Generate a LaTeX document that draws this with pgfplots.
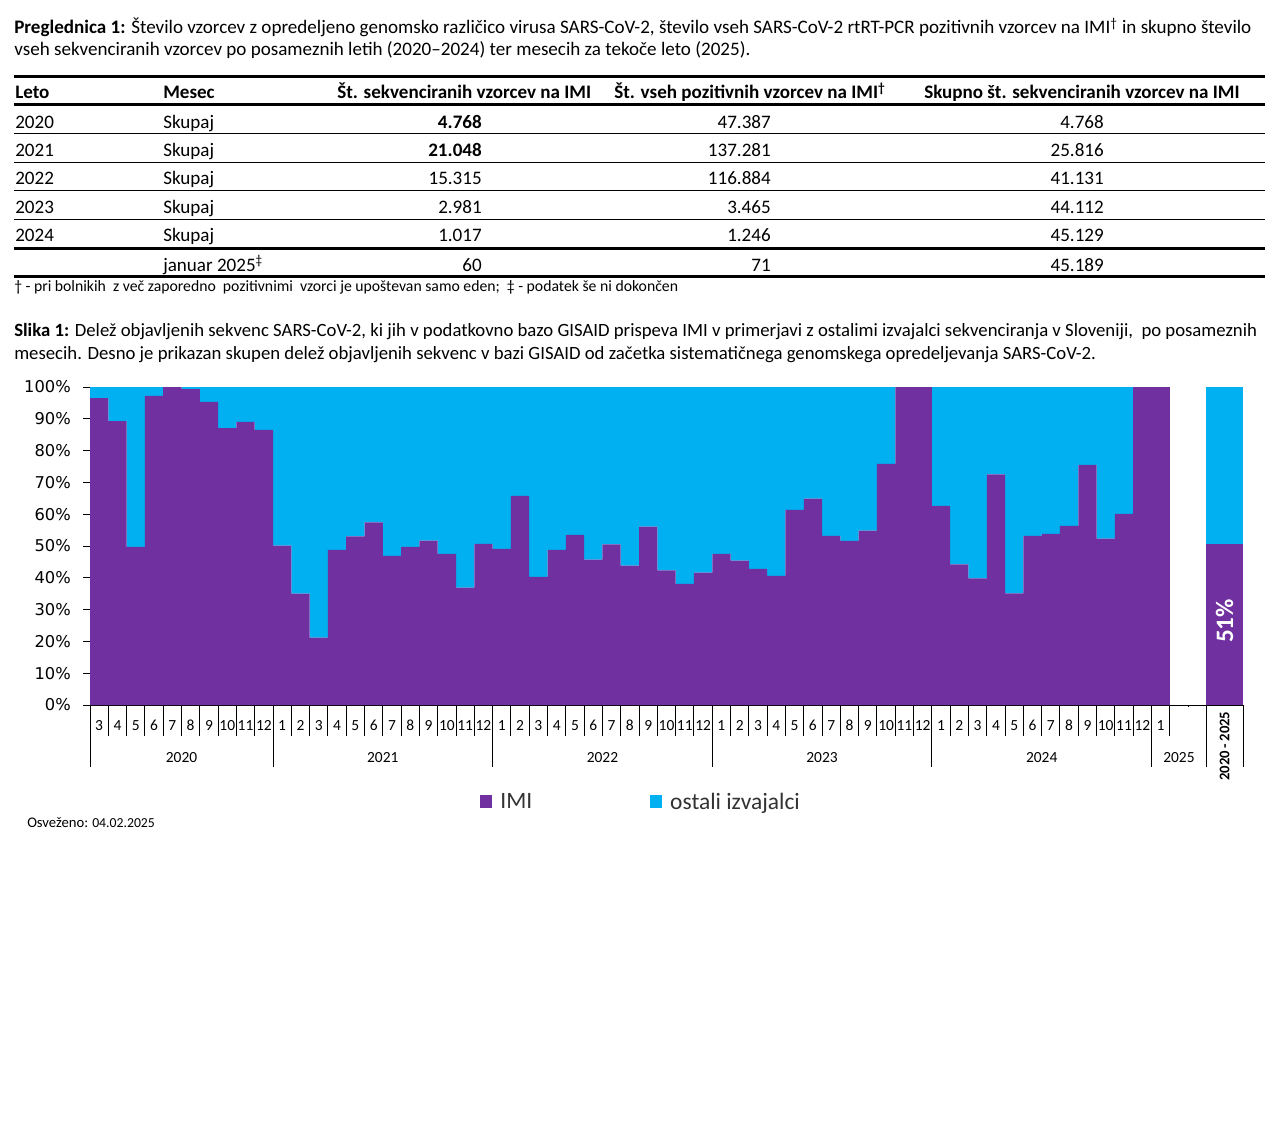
\documentclass[border=0pt]{standalone}
\usepackage{pgfplots}
\pgfplotsset{compat=1.18}
\usepackage{pgfplotstable}
\usepackage{fontspec}
\setmainfont{Carlito}
\newfontfamily\dejavu{DejaVu Sans}
\definecolor{imi}{HTML}{7030A0}
\definecolor{ost}{HTML}{00B0F0}
\newcommand{\fs}[1]{\fontsize{#1}{#1}\selectfont}

\pgfplotstableread{
x imi ost
0.5 96.5 3.5
1.5 89.3 10.7
2.5 49.7 50.3
3.5 97.2 2.8
4.5 100 0
5.5 99.3 0.7
6.5 95.3 4.7
7.5 87.1 12.9
8.5 89.0 11.0
9.5 86.5 13.5
10.5 50.1 49.9
11.5 35.0 65.0
12.5 21.2 78.8
13.5 48.8 51.2
14.5 53.0 47.0
15.5 57.4 42.6
16.5 46.9 53.1
17.5 49.7 50.3
18.5 51.7 48.3
19.5 47.5 52.5
20.5 36.9 63.1
21.5 50.7 49.3
22.5 49.1 50.9
23.5 65.8 34.2
24.5 40.3 59.7
25.5 48.8 51.2
26.5 53.5 46.5
27.5 45.7 54.3
28.5 50.5 49.5
29.5 43.8 56.2
30.5 56.1 43.9
31.5 42.3 57.7
32.5 38.1 61.9
33.5 41.6 58.4
34.5 47.5 52.5
35.5 45.4 54.6
36.5 42.8 57.2
37.5 40.6 59.4
38.5 61.4 38.6
39.5 64.9 35.1
40.5 53.2 46.8
41.5 51.6 48.4
42.5 54.8 45.2
43.5 75.8 24.2
44.5 100 0
45.5 100 0
46.5 62.6 37.4
47.5 44.2 55.8
48.5 39.8 60.2
49.5 72.5 27.5
50.5 35.1 64.9
51.5 53.2 46.8
52.5 53.8 46.2
53.5 56.3 43.7
54.5 75.5 24.5
55.5 52.3 47.7
56.5 60.1 39.9
57.5 100 0
58.5 100 0
}\monthly

\pgfplotstableread{
x imi ost
62 50.5 49.5
}\total

\begin{document}
\begin{tikzpicture}
\path[use as bounding box] (0,0) rectangle (960pt,-850.5pt);
\begin{scope}[x=0.75pt,y=-0.75pt]
% title
\node[anchor=base west,inner sep=0pt,font=\fs{14.3}] at (14,34) {\textbf{Preglednica 1:} Število vzorcev z opredeljeno genomsko različico virusa SARS-CoV-2, število vseh SARS-CoV-2 rtRT-PCR pozitivnih vzorcev na IMI\textsuperscript{†} in skupno število};
\node[anchor=base west,inner sep=0pt,font=\fs{14.3}] at (14,55.5) {vseh sekvenciranih vzorcev po posameznih letih (2020–2024) ter mesecih za tekoče leto (2025).};
% rules
\draw[line width=2.25pt] (14,76.5) -- (1265,76.5);
\draw[line width=2.25pt] (14,105) -- (1265,105);
\foreach \yy in {133.5,162.5,191,220} \draw[line width=0.75pt] (14,\yy) -- (1265,\yy);
\draw[line width=2.25pt] (14,248) -- (1265,248);
\draw[line width=2.25pt] (14,276) -- (1265,276);
% header
\begin{scope}[every node/.style={anchor=base west,inner sep=0pt,font=\fs{14.3}\bfseries}]
\node at (15,99) {Leto};
\node at (163,99) {Mesec};
\node at (337,99) {Št. sekvenciranih vzorcev na IMI};
\node at (614,99) {Št. vseh pozitivnih vzorcev na IMI\textsuperscript{†}};
\node at (924,99) {Skupno št. sekvenciranih vzorcev na IMI};
\end{scope}
\begin{scope}[every node/.style={inner sep=0pt,font=\fs{14.3}}]
\foreach \yy/\a/\b/\c/\d/\e in {128.5/2020/Skupaj/\textbf{4.768}/47.387/4.768,
  156.5/2021/Skupaj/\textbf{21.048}/137.281/25.816,
  185/2022/Skupaj/15.315/116.884/41.131,
  213.5/2023/Skupaj/2.981/3.465/44.112,
  242/2024/Skupaj/1.017/1.246/45.129,
  271//januar 2025\textsuperscript{‡}/60/71/45.189}{
  \node[anchor=base west] at (15,\yy) {\a};
  \node[anchor=base west] at (163,\yy) {\b};
  \node[anchor=base east] at (482,\yy) {\c};
  \node[anchor=base east] at (771,\yy) {\d};
  \node[anchor=base east] at (1104,\yy) {\e};
}
\end{scope}
\node[anchor=base west,inner sep=0pt,font=\fs{11.8}] at (14,291) {† - pri bolnikih\ \ z več zaporedno\ \ pozitivnimi\ \ vzorci je upoštevan samo eden;\ \ ‡ - podatek še ni dokončen};
% figure caption
\node[anchor=base west,inner sep=0pt,font=\fs{14.05}] at (14,336.5) {\textbf{Slika 1:} Delež objavljenih sekvenc SARS-CoV-2, ki jih v podatkovno bazo GISAID prispeva IMI v primerjavi z ostalimi izvajalci sekvenciranja v Sloveniji,\ \ po posameznih};
\node[anchor=base west,inner sep=0pt,font=\fs{14.05}] at (14,359.5) {mesecih. Desno je prikazan skupen delež objavljenih sekvenc v bazi GISAID od začetka sistematičnega genomskega opredeljevanja SARS-CoV-2.};
\node[anchor=base west,inner sep=0pt] at (27,827.5) {{\fs{11}Osveženo:} {\fs{10.3}04.02.2025}};
\end{scope}

\begin{axis}[
  at={(67.5pt,-528.75pt)}, anchor=south west,
  scale only axis, width=864.75pt, height=238.5pt,
  xmin=0, xmax=63, ymin=0, ymax=100,
  ybar stacked, bar width=1,
  clip=false,
  axis x line*=bottom, axis y line*=left,
  axis line style={black, line width=0.75pt},
  ytick={0,10,...,100},
  ytick align=outside, major tick length=5.25pt,
  ytick style={black, line width=0.75pt},
  /pgf/number format/assume math mode=true,
  yticklabel={\pgfmathprintnumber{\tick}\%},
  yticklabel style={font=\dejavu\fs{12.2}, anchor=east, inner sep=0pt, xshift=-9pt},
  xtick={0.5,1.5,...,58.5},
  xticklabels={3,4,5,6,7,8,9,10,11,12,1,2,3,4,5,6,7,8,9,10,11,12,1,2,3,4,5,6,7,8,9,10,11,12,1,2,3,4,5,6,7,8,9,10,11,12,1,2,3,4,5,6,7,8,9,10,11,12,1},
  xtick align=inside, xtick style={draw=none},
  xticklabel style={font=\fs{11.6}, anchor=base, inner sep=0pt, yshift=-18.75pt},
  legend style={at={(0.478,-0.305)}, anchor=center, draw=none, fill=none,
    legend columns=2, font=\fs{17.6}\color{black!80},
    /tikz/every odd column/.append style={column sep=4pt},
    /tikz/every even column/.append style={column sep=86pt}},
]
\addplot[fill=imi, draw=none, legend image code/.code={\fill[imi] (0pt,-4.5pt) rectangle (9.5pt,5pt);}] table[x=x,y=imi] {\monthly};
\addplot[fill=ost, draw=none, legend image code/.code={\fill[ost] (0pt,-4.5pt) rectangle (9.5pt,5pt);}] table[x=x,y=ost] {\monthly};
\legend{IMI, ostali izvajalci}
\pgfplotsinvokeforeach{1,...,59}{\draw[line width=0.75pt] (axis cs:#1,0) -- ++(0,-23.25pt);}
\pgfplotsinvokeforeach{0,10,22,34,46,58,61,63}{\draw[line width=0.75pt] (axis cs:#1,0) -- ++(0,-46.5pt);}
\draw[line width=0.75pt] (axis cs:60,0) -- ++(0,-1.5pt);
\node[font=\fs{11.6}] at (axis cs:5,-16.4) {2020};
\node[font=\fs{11.6}] at (axis cs:16,-16.4) {2021};
\node[font=\fs{11.6}] at (axis cs:28,-16.4) {2022};
\node[font=\fs{11.6}] at (axis cs:40,-16.4) {2023};
\node[font=\fs{11.6}] at (axis cs:52,-16.4) {2024};
\node[font=\fs{11.6}] at (axis cs:59.5,-16.4) {2025};
\coordinate (span) at (axis cs:62,-12.9);
\end{axis}

\begin{axis}[
  at={(67.5pt,-528.75pt)}, anchor=south west,
  scale only axis, width=864.75pt, height=238.5pt,
  xmin=0, xmax=63, ymin=0, ymax=100,
  ybar stacked, bar width=2,
  hide axis, clip=false,
]
\addplot[fill=imi, draw=none] table[x=x,y=imi] {\total};
\addplot[fill=ost, draw=none] table[x=x,y=ost] {\total};
\coordinate (lbl) at (axis cs:62,26.4);
\end{axis}
\node[font=\fs{18.8}\bfseries, text=white, rotate=90, inner sep=0pt] at (lbl) {51\%};
\node[font=\fs{11}\bfseries, rotate=90, inner sep=0pt] at (span) {2020\,-\,2025};
\end{tikzpicture}
\end{document}
